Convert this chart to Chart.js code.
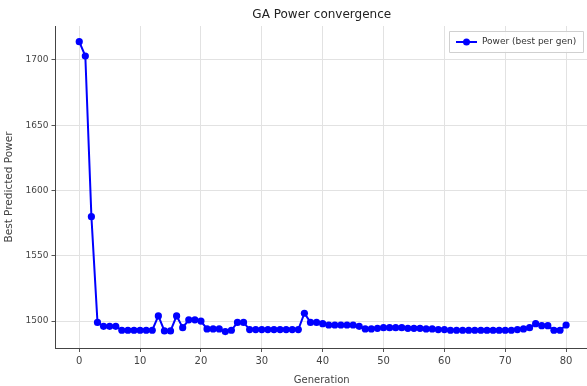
<!DOCTYPE html>
<html>
<head>
<meta charset="utf-8">
<script src="https://cdn.jsdelivr.net/npm/chart.js@4/dist/chart.umd.min.js"></script>
<style>
html,body{margin:0;padding:0;background:#fff;overflow:hidden;}
#wrap{width:592px;height:386px;}
</style>
</head>
<body>
<div id="wrap"><canvas id="c" width="592" height="386"></canvas></div>
<script>
const generations = [];
for (let g = 0; g <= 80; g++) generations.push(g);
const bestPower = [
  1714, 1703, 1580, 1499, 1496, 1496, 1496, 1493, 1493, 1493,
  1493, 1493, 1493, 1504, 1492.5, 1492.5, 1504, 1495, 1501, 1501,
  1500, 1494, 1494, 1494, 1492, 1493, 1499, 1499, 1493.5, 1493.5,
  1493.5, 1493.5, 1493.5, 1493.5, 1493.5, 1493.5, 1493.5, 1506, 1499, 1499,
  1498, 1497, 1497, 1497, 1497, 1497, 1496, 1494, 1494, 1494.5,
  1495, 1495, 1495, 1495, 1494.5, 1494.5, 1494.5, 1494, 1494, 1493.5,
  1493.5, 1493, 1493, 1493, 1493, 1493, 1493, 1493, 1493, 1493,
  1493, 1493, 1493.5, 1494, 1495, 1498, 1496.5, 1496.5, 1493, 1493,
  1497
];
const yTicks = [1500, 1550, 1600, 1650, 1700];
const xTicks = [0, 10, 20, 30, 40, 50, 60, 70, 80];
const seriesLabel = 'Power (best per gen)';
const titleText = 'GA Power convergence';

const FONT = '"DejaVu Sans", sans-serif';

const decor = {
  id: 'decor',
  afterDraw(chart) {
    const ctx = chart.ctx, a = chart.chartArea;
    ctx.save();
    ctx.fillStyle = '#222';
    ctx.font = '12px ' + FONT;
    ctx.textAlign = 'center';
    ctx.textBaseline = 'alphabetic';
    ctx.fillText(titleText, (a.left + a.right) / 2, 18);
    const bx = 449.5, by = 31.5, bw = 134, bh = 21;
    ctx.fillStyle = 'rgba(255,255,255,0.85)';
    ctx.strokeStyle = '#d0d0d0';
    ctx.lineWidth = 1;
    ctx.beginPath();
    ctx.rect(bx, by, bw, bh);
    ctx.fill(); ctx.stroke();
    const ly = by + bh / 2;
    ctx.strokeStyle = '#0000ff';
    ctx.lineWidth = 2;
    ctx.beginPath(); ctx.moveTo(456, ly); ctx.lineTo(477, ly); ctx.stroke();
    ctx.fillStyle = '#0000ff';
    ctx.beginPath(); ctx.arc(466.5, ly, 3.5, 0, Math.PI * 2); ctx.fill();
    ctx.fillStyle = '#333';
    ctx.font = '9px ' + FONT;
    ctx.textAlign = 'left';
    ctx.textBaseline = 'middle';
    ctx.fillText(seriesLabel, 482, ly);
    ctx.restore();
  }
};

new Chart(document.getElementById('c'), {
  type: 'line',
  data: {
    labels: generations,
    datasets: [{
      label: seriesLabel,
      data: generations.map((g, i) => ({x: g, y: bestPower[i]})),
      borderColor: '#0000ff',
      backgroundColor: '#0000ff',
      borderWidth: 2,
      pointRadius: 3.6,
      pointBorderWidth: 0,
      pointBackgroundColor: '#0000ff',
      tension: 0
    }]
  },
  options: {
    responsive: false,
    animation: false,
    layout: {padding: {top: 26, right: 3, left: 0, bottom: 0}},
    plugins: {legend: {display: false}, title: {display: false}, tooltip: {enabled: false}},
    scales: {
      x: {
        type: 'linear',
        min: -3.9,
        max: 83.6,
        afterBuildTicks(s) { s.ticks = xTicks.map(v => ({value: v})); },
        afterFit(s) { s.height = 38; },
        grid: {color: '#e2e2e2', lineWidth: 1, tickLength: 4, tickColor: '#555', drawTicks: true},
        border: {color: '#444', width: 1},
        ticks: {color: '#444', font: {family: FONT, size: 10}, padding: 3, maxRotation: 0,
                callback: v => String(v)},
        title: {display: true, text: 'Generation', color: '#444', font: {family: FONT, size: 10}, padding: {top: 4, bottom: 0}}
      },
      y: {
        type: 'linear',
        min: 1479.4,
        max: 1726,
        afterBuildTicks(s) { s.ticks = yTicks.map(v => ({value: v})); },
        afterFit(s) { s.width = 55.5; },
        grid: {color: '#e2e2e2', lineWidth: 1, tickLength: 4, tickColor: '#555', drawTicks: true},
        border: {color: '#444', width: 1},
        ticks: {color: '#444', font: {family: FONT, size: 9}, padding: 3,
                callback: v => String(v)},
        title: {display: true, text: 'Best Predicted Power', color: '#444', font: {family: FONT, size: 10.5}, padding: {top: 3, bottom: 0}}
      }
    }
  },
  plugins: [decor]
});
</script>
</body>
</html>
